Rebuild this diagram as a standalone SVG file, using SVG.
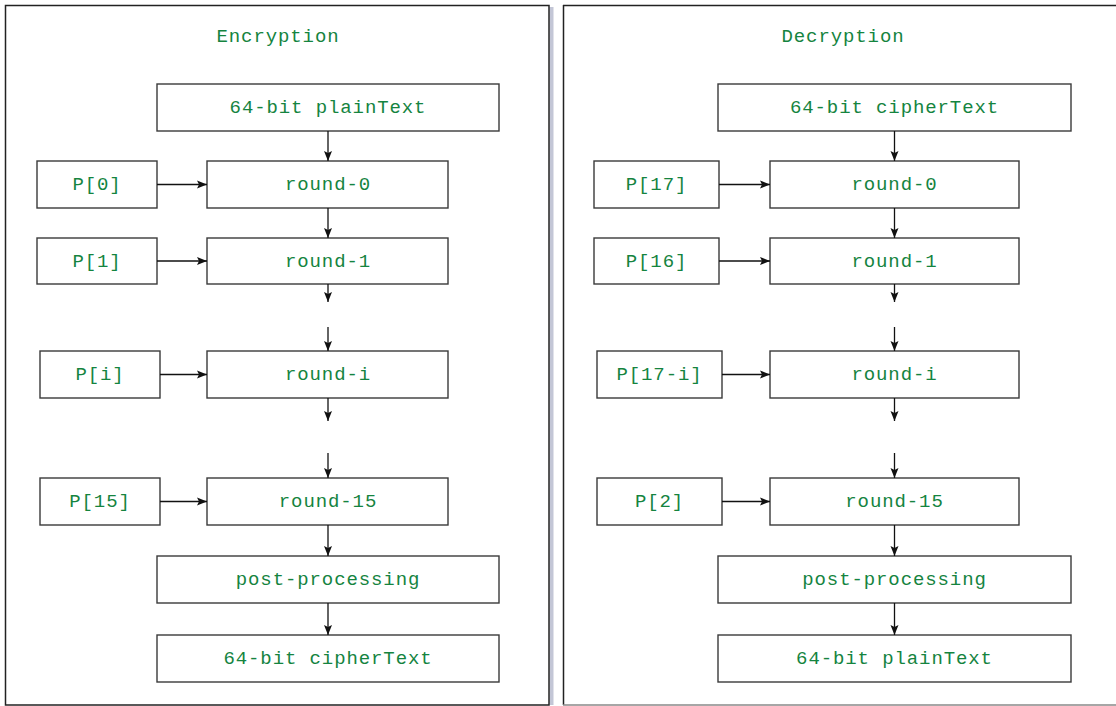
<svg xmlns="http://www.w3.org/2000/svg" width="1116" height="706" viewBox="0 0 1116 706">
<defs>
<style>
.box{fill:#fff;stroke:#3a3a3a;stroke-width:1.4}
.t{font-family:"Liberation Mono","Courier New",monospace;font-size:19px;letter-spacing:0.9px;fill:#15843f;text-anchor:middle}
.c{stroke:#111;stroke-width:1.3;fill:none;marker-end:url(#ah)}
</style>
<marker id="ah" markerUnits="userSpaceOnUse" markerWidth="11" markerHeight="10" refX="10" refY="5" orient="auto">
<path d="M0,1 L10,5 L0,9 L2,5 Z" fill="#111"/>
</marker>
</defs>
<rect width="1116" height="706" fill="#fff"/>
<!-- panels -->
<g id="panel-left">
<rect x="549.5" y="7" width="4" height="698" fill="#c3c6d6"/>
<rect x="5.5" y="5.5" width="543.5" height="699.5" fill="none" stroke="#222" stroke-width="1.5"/>
<text class="t" x="278" y="42">Encryption</text>
</g>
<g id="panel-right">
<line x1="563.5" y1="5" x2="563.5" y2="705" stroke="#222" stroke-width="1.5"/>
<line x1="563" y1="5.5" x2="1116" y2="5.5" stroke="#222" stroke-width="1.5"/>
<line x1="563" y1="705" x2="1116" y2="705" stroke="#888" stroke-width="1.5"/>
<text class="t" x="843" y="42">Decryption</text>
</g>
<!-- left nodes -->
<g id="e-plain"><rect class="box" x="157" y="84" width="342" height="47"/><text class="t" x="328" y="113">64-bit plainText</text></g>
<g id="e-p0"><rect class="box" x="37" y="161" width="120" height="47"/><text class="t" x="97" y="190">P[0]</text></g>
<g id="e-r0"><rect class="box" x="207" y="161" width="241" height="47"/><text class="t" x="328" y="190">round-0</text></g>
<g id="e-p1"><rect class="box" x="37" y="238" width="120" height="46"/><text class="t" x="97" y="267">P[1]</text></g>
<g id="e-r1"><rect class="box" x="207" y="238" width="241" height="46"/><text class="t" x="328" y="267">round-1</text></g>
<g id="e-pi"><rect class="box" x="40" y="351" width="120" height="47"/><text class="t" x="100" y="380">P[i]</text></g>
<g id="e-ri"><rect class="box" x="207" y="351" width="241" height="47"/><text class="t" x="328" y="380">round-i</text></g>
<g id="e-p15"><rect class="box" x="40" y="478" width="120" height="47"/><text class="t" x="100" y="507">P[15]</text></g>
<g id="e-r15"><rect class="box" x="207" y="478" width="241" height="47"/><text class="t" x="328" y="507">round-15</text></g>
<g id="e-post"><rect class="box" x="157" y="556" width="342" height="47"/><text class="t" x="328" y="585">post-processing</text></g>
<g id="e-cipher"><rect class="box" x="157" y="635" width="342" height="47"/><text class="t" x="328" y="664">64-bit cipherText</text></g>
<!-- right nodes -->
<g id="d-cipher"><rect class="box" x="718" y="84" width="353" height="47"/><text class="t" x="894.5" y="113">64-bit cipherText</text></g>
<g id="d-p17"><rect class="box" x="594" y="161" width="125" height="47"/><text class="t" x="656.5" y="190">P[17]</text></g>
<g id="d-r0"><rect class="box" x="770" y="161" width="249" height="47"/><text class="t" x="894.5" y="190">round-0</text></g>
<g id="d-p16"><rect class="box" x="594" y="238" width="125" height="46"/><text class="t" x="656.5" y="267">P[16]</text></g>
<g id="d-r1"><rect class="box" x="770" y="238" width="249" height="46"/><text class="t" x="894.5" y="267">round-1</text></g>
<g id="d-pi"><rect class="box" x="597" y="351" width="125" height="47"/><text class="t" x="659.5" y="380">P[17-i]</text></g>
<g id="d-ri"><rect class="box" x="770" y="351" width="249" height="47"/><text class="t" x="894.5" y="380">round-i</text></g>
<g id="d-p2"><rect class="box" x="597" y="478" width="125" height="47"/><text class="t" x="659.5" y="507">P[2]</text></g>
<g id="d-r15"><rect class="box" x="770" y="478" width="249" height="47"/><text class="t" x="894.5" y="507">round-15</text></g>
<g id="d-post"><rect class="box" x="718" y="556" width="353" height="47"/><text class="t" x="894.5" y="585">post-processing</text></g>
<g id="d-plain"><rect class="box" x="718" y="635" width="353" height="47"/><text class="t" x="894.5" y="664">64-bit plainText</text></g>
<!-- connectors -->
<g id="connectors">
<line class="c" x1="328" y1="131" x2="328" y2="161"/>
<line class="c" x1="328" y1="208" x2="328" y2="238"/>
<line class="c" x1="328" y1="284" x2="328" y2="302"/>
<line class="c" x1="328" y1="327" x2="328" y2="351"/>
<line class="c" x1="328" y1="398" x2="328" y2="421"/>
<line class="c" x1="328" y1="453" x2="328" y2="478"/>
<line class="c" x1="328" y1="525" x2="328" y2="556"/>
<line class="c" x1="328" y1="603" x2="328" y2="635"/>
<line class="c" x1="157" y1="184.5" x2="207" y2="184.5"/>
<line class="c" x1="157" y1="261" x2="207" y2="261"/>
<line class="c" x1="160" y1="374.5" x2="207" y2="374.5"/>
<line class="c" x1="160" y1="501.5" x2="207" y2="501.5"/>
<line class="c" x1="894.5" y1="131" x2="894.5" y2="161"/>
<line class="c" x1="894.5" y1="208" x2="894.5" y2="238"/>
<line class="c" x1="894.5" y1="284" x2="894.5" y2="302"/>
<line class="c" x1="894.5" y1="327" x2="894.5" y2="351"/>
<line class="c" x1="894.5" y1="398" x2="894.5" y2="421"/>
<line class="c" x1="894.5" y1="453" x2="894.5" y2="478"/>
<line class="c" x1="894.5" y1="525" x2="894.5" y2="556"/>
<line class="c" x1="894.5" y1="603" x2="894.5" y2="635"/>
<line class="c" x1="719" y1="184.5" x2="770" y2="184.5"/>
<line class="c" x1="719" y1="261" x2="770" y2="261"/>
<line class="c" x1="722" y1="374.5" x2="770" y2="374.5"/>
<line class="c" x1="722" y1="501.5" x2="770" y2="501.5"/>
</g>
</svg>
